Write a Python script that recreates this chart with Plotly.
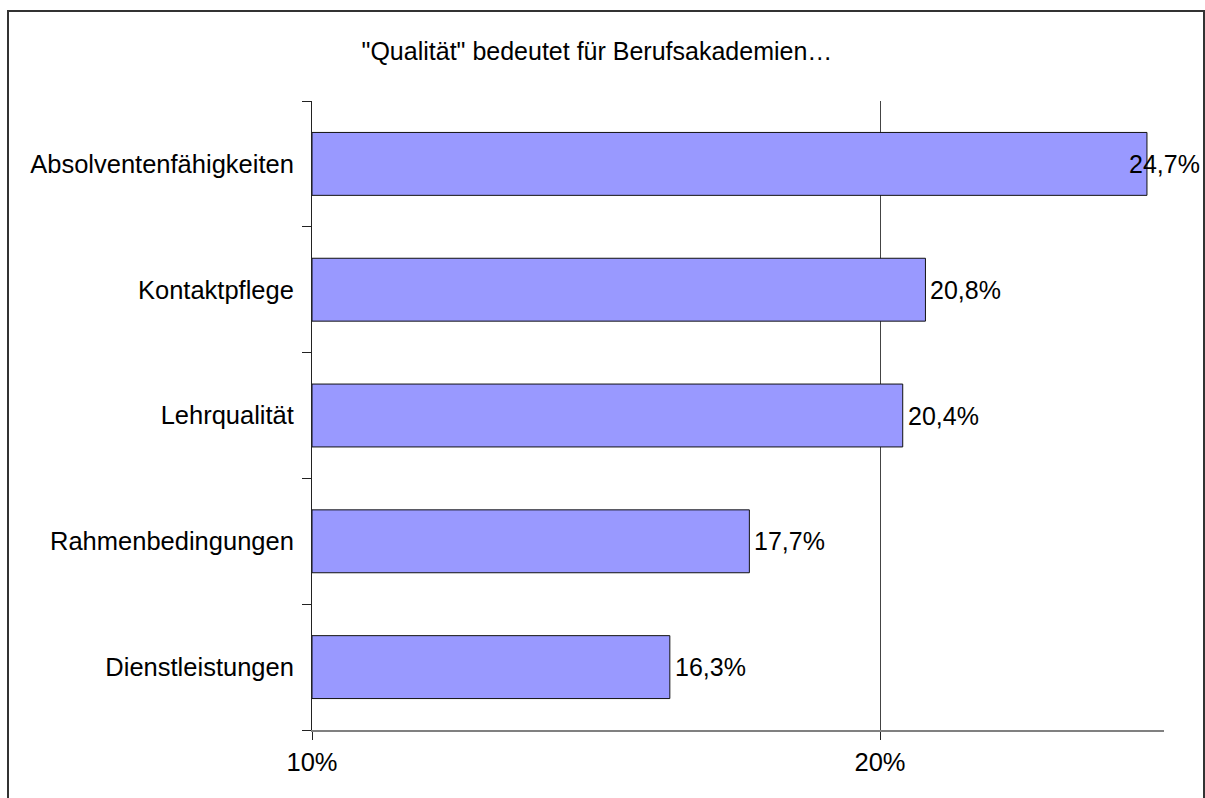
import plotly.graph_objects as go

categories = ["Absolventenfähigkeiten", "Kontaktpflege", "Lehrqualität",
              "Rahmenbedingungen", "Dienstleistungen"]
values = [24.7, 20.8, 20.4, 17.7, 16.3]
tick_values = [10, 20]
tick_labels = ["10%", "20%"]
title_text = '"Qualität" bedeutet für Berufsakademien…'

FONT = "Liberation Sans, Arial, sans-serif"
XMIN, XMAX = 10, 25

labels = [f"{v:.1f}".replace(".", ",") + "%" for v in values]

fig = go.Figure()
fig.add_trace(go.Bar(
    x=[v - XMIN for v in values], y=categories, orientation="h",
    base=XMIN,
    marker=dict(color="#9999FF", line=dict(color="#111111", width=1)),
    hoverinfo="skip",
))

annotations = []
for c, v, t in zip(categories, values, labels):
    if v > XMAX - 1.0:
        annotations.append(dict(x=XMAX, y=c, xref="x", yref="y", text=t,
                                showarrow=False, xanchor="right", xshift=38,
                                font=dict(family=FONT, size=25, color="black")))
    else:
        annotations.append(dict(x=v, y=c, xref="x", yref="y", text=t,
                                showarrow=False, xanchor="left", xshift=3,
                                font=dict(family=FONT, size=25, color="black")))

fig.update_layout(
    width=1205, height=798,
    margin=dict(l=312, r=41, t=101, b=68),
    paper_bgcolor="white", plot_bgcolor="white",
    font=dict(family=FONT, size=25, color="black"),
    showlegend=False,
    bargap=0.5,
    title=dict(text=title_text, x=0.4954, xanchor="center", xref="container",
               y=1 - 51 / 798, yanchor="middle", yref="container",
               font=dict(family=FONT, size=25, color="black")),
    xaxis=dict(range=[XMIN, XMAX], tickvals=tick_values, ticktext=tick_labels,
               showgrid=True, gridcolor="#444444", gridwidth=1,
               showline=True, linecolor="#808080", linewidth=2,
               ticks="outside", ticklen=8, tickcolor="#222222",
               zeroline=False, fixedrange=True,
               tickfont=dict(family=FONT, size=25.5, color="black")),
    yaxis=dict(categoryorder="array", categoryarray=categories[::-1],
               showgrid=False, showline=True, linecolor="#222222", linewidth=1,
               ticks="outside", ticklen=9, tickson="boundaries", tickcolor="#222222",
               ticklabelstandoff=12, fixedrange=True,
               tickfont=dict(family=FONT, size=25.5, color="black")),
    annotations=annotations,
    shapes=[dict(type="rect", xref="paper", yref="paper",
                 x0=(8 - 312) / 852, x1=(1204 - 312) / 852,
                 y0=(730 - 815) / 629, y1=(730 - 11) / 629,
                 line=dict(color="#333333", width=2), fillcolor="rgba(0,0,0,0)",
                 layer="below")],
)

fig.write_html("out.html", config={"displayModeBar": False},
               post_script="document.body.style.margin='0';document.body.style.overflow='hidden';")
